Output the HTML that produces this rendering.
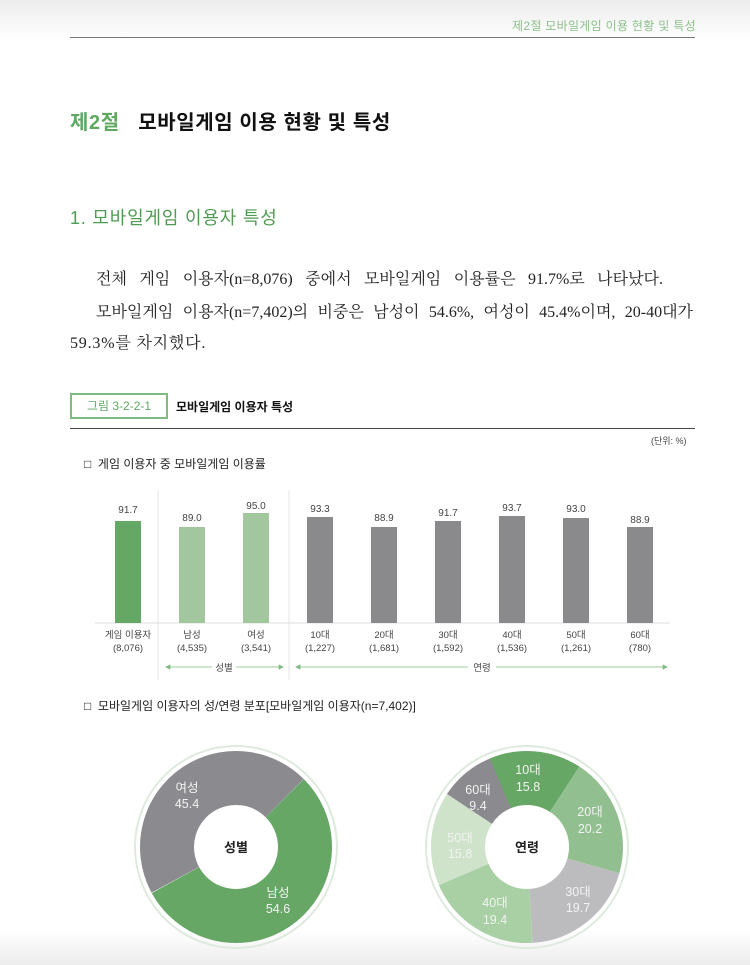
<!DOCTYPE html>
<html><head><meta charset="utf-8"><style>
*{margin:0;padding:0}
body{width:750px;height:965px;position:relative;overflow:hidden;background:#fff;font-family:"Liberation Sans","Noto Sans CJK KR",sans-serif;}
.a{position:absolute;white-space:nowrap}
.p{position:absolute;font-size:16px;color:#222;font-family:"Liberation Serif","Noto Serif CJK SC",serif;text-align:justify;text-align-last:justify;white-space:normal}
</style></head><body>
<div class="a" style="left:0;top:0;width:750px;height:40px;background:linear-gradient(#ececec,#fff)"></div>
<div class="a" style="left:0;top:930px;width:750px;height:35px;background:linear-gradient(#fff,#ececec)"></div>
<div class="a" style="left:512px;top:17px;font-size:12px;color:#8cbf8a;letter-spacing:0.3px">제2절 모바일게임 이용 현황 및 특성</div>
<div class="a" style="left:70px;top:37px;width:625px;height:1px;background:#777"></div>
<div class="a" style="left:70px;top:106px;font-size:20px;font-weight:bold;color:#111;letter-spacing:0.6px"><span style="color:#5fa862">제2절</span>&nbsp;&nbsp;&nbsp;모바일게임 이용 현황 및 특성</div>
<div class="a" style="left:70px;top:204px;font-size:18px;color:#4f9b52;letter-spacing:0.8px">1. 모바일게임 이용자 특성</div>
<div class="p" style="left:96px;top:266px;width:567px">전체 게임 이용자(n=8,076) 중에서 모바일게임 이용률은 91.7%로 나타났다.</div>
<div class="p" style="left:96px;top:299px;width:597px">모바일게임 이용자(n=7,402)의 비중은 남성이 54.6%, 여성이 45.4%이며, 20-40대가</div>
<div class="a" style="left:70px;top:330px;font-size:16px;color:#222;font-family:'Liberation Serif','Noto Serif CJK SC',serif;letter-spacing:0.8px">59.3%를 차지했다.</div>
<div class="a" style="left:70px;top:393px;width:94px;height:22px;border:2px solid #7dbb7e;font-size:12px;color:#5fa862;line-height:22px;text-align:center">그림 3-2-2-1</div>
<div class="a" style="left:176px;top:398px;font-size:12px;font-weight:bold;color:#111">모바일게임 이용자 특성</div>
<div class="a" style="left:70px;top:428px;width:625px;height:1px;background:#444"></div>
<div class="a" style="left:651px;top:434px;font-size:9px;color:#444">(단위: %)</div>
<div class="a" style="left:84px;top:455px;font-size:12px;color:#222">□&nbsp; 게임 이용자 중 모바일게임 이용률</div>
<div class="a" style="left:84px;top:697px;font-size:12px;color:#222">□&nbsp; 모바일게임 이용자의 성/연령 분포[모바일게임 이용자(n=7,402)]</div>
<svg class="a" style="left:0;top:0" width="750" height="965" font-family="Liberation Sans, Noto Sans CJK KR, sans-serif">
<g stroke="#e4e4e4"><line x1="158" y1="490" x2="158" y2="680"/><line x1="289" y1="490" x2="289" y2="680"/></g>
<line x1="95" y1="623" x2="670" y2="623" stroke="#ddd"/>
<g font-size="10" fill="#444" text-anchor="middle">
<rect x="115" y="521" width="26" height="102" fill="#65a765"/><text x="128" y="513">91.7</text>
<rect x="179" y="527" width="26" height="96" fill="#a2c79e"/><text x="192" y="521">89.0</text>
<rect x="243" y="513" width="26" height="110" fill="#a2c79e"/><text x="256" y="509">95.0</text>
<rect x="307" y="517" width="26" height="106" fill="#8a8a8d"/><text x="320" y="512">93.3</text>
<rect x="371" y="527" width="26" height="96" fill="#8a8a8d"/><text x="384" y="521">88.9</text>
<rect x="435" y="521" width="26" height="102" fill="#8a8a8d"/><text x="448" y="516">91.7</text>
<rect x="499" y="516" width="26" height="107" fill="#8a8a8d"/><text x="512" y="511">93.7</text>
<rect x="563" y="518" width="26" height="105" fill="#8a8a8d"/><text x="576" y="512">93.0</text>
<rect x="627" y="527" width="26" height="96" fill="#8a8a8d"/><text x="640" y="523">88.9</text>
<g font-size="9.5">
<text x="128" y="638">게임 이용자</text><text x="128" y="651">(8,076)</text>
<text x="192" y="638">남성</text><text x="192" y="651">(4,535)</text>
<text x="256" y="638">여성</text><text x="256" y="651">(3,541)</text>
<text x="320" y="638">10대</text><text x="320" y="651">(1,227)</text>
<text x="384" y="638">20대</text><text x="384" y="651">(1,681)</text>
<text x="448" y="638">30대</text><text x="448" y="651">(1,592)</text>
<text x="512" y="638">40대</text><text x="512" y="651">(1,536)</text>
<text x="576" y="638">50대</text><text x="576" y="651">(1,261)</text>
<text x="640" y="638">60대</text><text x="640" y="651">(780)</text>
<text x="224" y="671">성별</text><text x="482" y="671">연령</text>
</g></g>
<g stroke="#7dbb7e" stroke-width="0.8" fill="#7dbb7e">
<line x1="168" y1="667" x2="212" y2="667"/><line x1="236" y1="667" x2="281" y2="667"/>
<line x1="298" y1="667" x2="468" y2="667"/><line x1="496" y1="667" x2="665" y2="667"/>
<path d="M166 667l4-2v4zM283 667l-4-2v4zM296 667l4-2v4zM667 667l-4-2v4z"/>
</g>
<circle cx="236" cy="847" r="101" fill="none" stroke="#dfeadf" stroke-width="2"/>
<circle cx="527" cy="847" r="101" fill="none" stroke="#dfeadf" stroke-width="2"/>
<g fill="none" stroke-width="54">
<circle cx="236" cy="847" r="69" pathLength="100" stroke="#66a766" stroke-dasharray="54.6 100" transform="rotate(-45 236 847)"/>
<circle cx="236" cy="847" r="69" pathLength="100" stroke="#8b8b8f" stroke-dasharray="45.4 100" transform="rotate(151.6 236 847)"/>
<circle cx="527" cy="847" r="69" pathLength="100" stroke="#66a766" stroke-dasharray="15.8 100" transform="rotate(-113.7 527 847)"/>
<circle cx="527" cy="847" r="69" pathLength="100" stroke="#92bf8f" stroke-dasharray="20.2 100" transform="rotate(-56.8 527 847)"/>
<circle cx="527" cy="847" r="69" pathLength="100" stroke="#bcbcbf" stroke-dasharray="19.7 100" transform="rotate(15.9 527 847)"/>
<circle cx="527" cy="847" r="69" pathLength="100" stroke="#a9cfa4" stroke-dasharray="19.4 100" transform="rotate(86.8 527 847)"/>
<circle cx="527" cy="847" r="69" pathLength="100" stroke="#cfe3cb" stroke-dasharray="15.8 100" transform="rotate(156.6 527 847)"/>
<circle cx="527" cy="847" r="69" pathLength="100" stroke="#8b8b8f" stroke-dasharray="9.4 100" transform="rotate(213.5 527 847)"/>
</g>
<g font-size="12.5" fill="#f2f2f2" text-anchor="middle">
<text x="187" y="792">여성</text><text x="187" y="808">45.4</text>
<text x="278" y="897">남성</text><text x="278" y="913">54.6</text>
<text x="528" y="774">10대</text><text x="528" y="791">15.8</text>
<text x="590" y="816">20대</text><text x="590" y="833">20.2</text>
<text x="578" y="896">30대</text><text x="578" y="912">19.7</text>
<text x="495" y="907">40대</text><text x="495" y="924">19.4</text>
<text x="460" y="842">50대</text><text x="460" y="858">15.8</text>
<text x="478" y="794">60대</text><text x="478" y="810">9.4</text>
</g>
<g font-size="13" font-weight="bold" fill="#222" text-anchor="middle">
<text x="236" y="852">성별</text><text x="527" y="852">연령</text></g>
</svg>
</body></html>
